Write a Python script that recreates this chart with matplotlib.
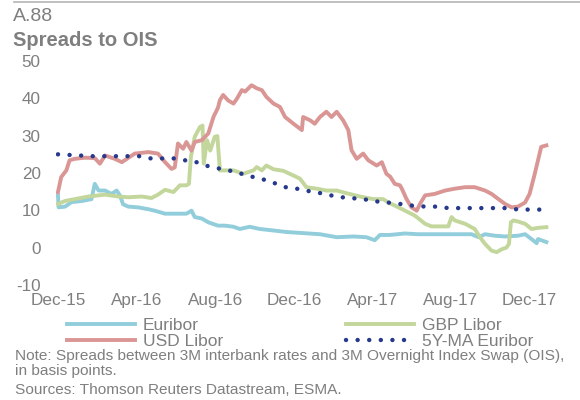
import matplotlib
matplotlib.use("Agg")
import matplotlib.pyplot as plt
import matplotlib.dates as mdates
import pandas as pd
from matplotlib.lines import Line2D

plt.rcParams['font.family'] = ['Liberation Sans', 'DejaVu Sans']
plt.rcParams['axes.unicode_minus'] = False

GREY = '#7f7f7f'

# spreads to OIS, basis points
usd_dates = ['2015-12-01', '2015-12-06', '2015-12-14', '2015-12-19', '2015-12-27', '2016-01-12',
             '2016-01-27', '2016-02-04', '2016-02-12', '2016-02-27', '2016-03-09', '2016-03-29',
             '2016-04-19', '2016-05-04', '2016-05-15', '2016-05-25', '2016-05-30', '2016-06-04',
             '2016-06-12', '2016-06-17', '2016-06-25', '2016-06-30', '2016-07-11', '2016-07-21',
             '2016-07-29', '2016-08-05', '2016-08-08', '2016-08-13', '2016-08-21', '2016-08-29',
             '2016-09-03', '2016-09-11', '2016-09-16', '2016-09-26', '2016-10-04', '2016-10-12',
             '2016-10-19', '2016-10-30', '2016-11-09', '2016-11-17', '2016-11-30', '2016-12-13',
             '2016-12-15', '2016-12-26', '2017-01-02', '2017-01-10', '2017-01-20', '2017-01-28',
             '2017-02-05', '2017-02-15', '2017-02-23', '2017-02-28', '2017-03-08', '2017-03-18',
             '2017-03-26', '2017-04-08', '2017-04-16', '2017-04-23', '2017-04-29', '2017-05-06',
             '2017-05-14', '2017-05-17', '2017-05-24', '2017-06-01', '2017-06-09', '2017-06-14',
             '2017-06-22', '2017-07-07', '2017-07-23', '2017-08-07', '2017-08-23', '2017-09-07',
             '2017-09-23', '2017-10-03', '2017-10-13', '2017-10-24', '2017-11-03', '2017-11-13',
             '2017-11-24', '2017-12-01', '2017-12-09', '2017-12-14', '2017-12-19', '2017-12-27']
usd_libor = [14.9, 18.9, 20.7, 23.4, 23.8, 24.1, 24.0, 22.5, 24.7, 23.8, 22.9, 25.2,
             25.6, 25.2, 22.9, 21.1, 21.5, 27.9, 26.5, 28.3, 26.0, 28.3, 28.8, 30.6,
             35.0, 37.5, 39.5, 40.9, 39.4, 38.6, 39.8, 42.2, 41.8, 43.5, 42.7, 42.2,
             40.4, 38.6, 37.7, 35.0, 33.2, 31.5, 35.0, 34.1, 33.2, 35.0, 36.4, 35.0,
             36.4, 34.1, 31.5, 26.1, 23.8, 25.2, 23.4, 22.0, 22.9, 19.8, 19.0, 17.1,
             16.7, 15.8, 13.1, 10.8, 9.9, 11.7, 14.0, 14.4, 15.3, 15.8, 16.2, 16.2,
             15.3, 14.4, 13.1, 11.7, 10.8, 11.0, 12.1, 14.4, 19.8, 23.4, 27.0, 27.4]

eur_dates = ['2015-12-01', '2015-12-02', '2015-12-12', '2015-12-22', '2016-01-07', '2016-01-22',
             '2016-01-27', '2016-02-02', '2016-02-12', '2016-02-22', '2016-03-01', '2016-03-06',
             '2016-03-11', '2016-03-19', '2016-04-03', '2016-04-19', '2016-04-29', '2016-05-15',
             '2016-06-04', '2016-06-17', '2016-06-25', '2016-06-30', '2016-07-11', '2016-07-21',
             '2016-08-05', '2016-08-16', '2016-08-29', '2016-09-08', '2016-09-23', '2016-10-09',
             '2016-10-30', '2016-11-19', '2016-12-15', '2017-01-10', '2017-02-05', '2017-03-03',
             '2017-03-23', '2017-04-05', '2017-04-13', '2017-04-28', '2017-05-22', '2017-06-11',
             '2017-07-07', '2017-08-02', '2017-09-02', '2017-09-13', '2017-09-23', '2017-10-08',
             '2017-10-24', '2017-11-13', '2017-11-24', '2017-12-04', '2017-12-12', '2017-12-14',
             '2017-12-27']
euribor = [14.0, 10.8, 11.0, 12.2, 12.5, 13.0, 17.1, 15.3, 15.3, 14.4, 15.3, 14.0,
           11.6, 11.0, 10.8, 10.3, 9.9, 9.1, 9.1, 9.1, 9.9, 8.2, 7.8, 6.8,
           5.9, 5.9, 5.6, 5.0, 5.6, 5.0, 4.6, 4.2, 3.9, 3.6, 2.8, 3.0,
           2.8, 2.0, 3.4, 3.4, 3.8, 3.6, 3.6, 3.6, 3.6, 2.8, 3.6, 3.2,
           3.0, 3.2, 3.6, 2.3, 1.2, 2.3, 1.5]

gbp_dates = ['2015-12-01', '2015-12-12', '2015-12-27', '2016-01-17', '2016-02-12', '2016-03-04',
             '2016-03-19', '2016-04-09', '2016-04-24', '2016-05-04', '2016-05-15', '2016-05-28',
             '2016-06-07', '2016-06-17', '2016-06-21', '2016-06-24', '2016-06-30', '2016-07-08',
             '2016-07-12', '2016-07-14', '2016-07-19', '2016-07-24', '2016-07-31', '2016-08-04',
             '2016-08-08', '2016-08-16', '2016-08-29', '2016-09-13', '2016-09-29', '2016-10-04',
             '2016-10-12', '2016-10-19', '2016-10-30', '2016-11-14', '2016-11-24', '2016-12-10',
             '2016-12-20', '2017-01-05', '2017-01-20', '2017-02-05', '2017-02-20', '2017-03-13',
             '2017-04-03', '2017-04-18', '2017-04-28', '2017-05-06', '2017-05-22', '2017-06-06',
             '2017-06-22', '2017-07-02', '2017-07-18', '2017-07-28', '2017-08-02', '2017-08-07',
             '2017-08-23', '2017-09-07', '2017-09-15', '2017-09-23', '2017-10-03', '2017-10-11',
             '2017-10-19', '2017-10-26', '2017-10-30', '2017-11-02', '2017-11-06', '2017-11-13',
             '2017-11-24', '2017-12-04', '2017-12-14', '2017-12-27']
gbp_libor = [11.7, 12.5, 13.0, 13.7, 14.2, 13.7, 13.5, 13.7, 13.3, 14.2, 15.5, 14.9,
             16.7, 16.7, 17.1, 24.3, 29.7, 32.3, 32.7, 22.5, 28.8, 26.0, 29.7, 29.9,
             20.7, 20.7, 20.7, 19.8, 20.7, 21.6, 20.7, 22.0, 21.0, 20.6, 19.8, 18.5,
             16.2, 15.8, 15.3, 15.3, 14.6, 13.7, 13.0, 13.0, 11.9, 11.3, 9.9, 8.6,
             6.4, 5.7, 5.7, 5.7, 8.2, 7.3, 6.4, 5.0, 2.8, 1.0, -0.8, -1.2,
             -0.4, 0.0, 1.0, 6.8, 7.3, 7.0, 6.4, 5.0, 5.3, 5.5]

ma_dates = ['2015-12-01', '2016-01-24', '2016-04-06', '2016-04-23', '2016-05-29', '2016-06-15',
            '2016-07-01', '2016-07-17', '2016-08-01', '2016-08-15', '2016-09-02', '2016-09-17',
            '2016-10-02', '2016-10-18', '2016-11-02', '2016-11-18', '2016-12-05', '2016-12-22',
            '2017-01-08', '2017-01-24', '2017-02-08', '2017-02-24', '2017-03-13', '2017-03-30',
            '2017-04-14', '2017-05-02', '2017-05-19', '2017-06-05', '2017-06-23', '2017-07-11',
            '2017-07-28', '2017-10-27', '2017-11-14', '2017-12-27']
ma_euribor = [25.0, 24.5, 24.5, 23.9, 23.9, 23.4, 23.0, 22.0, 21.4, 20.9, 20.3, 19.4,
              18.8, 18.1, 17.2, 16.2, 15.8, 15.2, 14.7, 14.1, 13.6, 13.3, 13.1, 12.7,
              12.2, 12.0, 11.6, 11.2, 11.0, 11.0, 10.6, 10.6, 10.2, 10.2]

tick_dates = ['2015-12-01', '2016-04-01', '2016-08-01', '2016-12-01',
              '2017-04-01', '2017-08-01', '2017-12-01']

fig = plt.figure(figsize=(5.8, 4), dpi=100)
ax = fig.add_axes([0.0966, 0.2875, 0.851, 0.56])

c_eur = '#92cddc'
c_gbp = '#c3d69b'
c_usd = '#d99694'
c_ma = '#26398c'
dots = (0, (0.01, 2.6))

ax.plot(pd.to_datetime(eur_dates), euribor, color=c_eur, lw=2.8, solid_joinstyle='round')
ax.plot(pd.to_datetime(gbp_dates), gbp_libor, color=c_gbp, lw=2.8, solid_joinstyle='round')
ax.plot(pd.to_datetime(usd_dates), usd_libor, color=c_usd, lw=2.8, solid_joinstyle='round')
ax.plot(pd.to_datetime(ma_dates), ma_euribor, color=c_ma, lw=3.2,
        linestyle=dots, dash_capstyle='round')

ax.set_xlim(pd.Timestamp('2015-11-28'), pd.Timestamp('2018-01-01'))
ax.set_ylim(-10, 50)
ax.set_yticks(range(-10, 51, 10))
ax.set_xticks(pd.to_datetime(tick_dates))
ax.xaxis.set_major_formatter(mdates.DateFormatter('%b-%y'))
ax.tick_params(length=0, labelsize=12.3, labelcolor=GREY)
ax.tick_params(axis='y', pad=11)
ax.tick_params(axis='x', pad=5.5)
for s in ax.spines.values():
    s.set_visible(False)

handles = [
    Line2D([], [], color=c_eur, lw=2.8),
    Line2D([], [], color=c_usd, lw=2.8),
    Line2D([], [], color=c_gbp, lw=2.8),
    Line2D([], [], color=c_ma, lw=3.2, linestyle=dots, dash_capstyle='round'),
]
labels = ['Euribor', 'USD Libor', 'GBP Libor', '5Y-MA Euribor']
leg = fig.legend(handles, labels, ncol=2, loc='upper left', bbox_to_anchor=(0.1155, 0.206),
                 frameon=False, fontsize=12.5, handlelength=3.9, handletextpad=0.45,
                 columnspacing=7.1, labelspacing=0.05, borderpad=0, borderaxespad=0)
for t in leg.get_texts():
    t.set_color(GREY)

# header
fig.add_artist(Line2D([0.024, 1], [0.996, 0.996], color='#b4b4b4', lw=1.2))
fig.text(0.022, 0.98, 'A.88', fontsize=14, color=GREY, va='top')
fig.text(0.022, 0.922, 'Spreads to OIS', fontsize=14.5, color=GREY, fontweight='bold', va='top')

fig.text(0.026, 0.1275,
         'Note: Spreads between 3M interbank rates and 3M Overnight Index Swap (OIS),\n'
         'in basis points.',
         fontsize=11.1, color=GREY, va='top', linespacing=1.1)
fig.text(0.026, 0.043, 'Sources: Thomson Reuters Datastream, ESMA.',
         fontsize=11.1, color=GREY, va='top')

fig.savefig('out.png', dpi=100)
